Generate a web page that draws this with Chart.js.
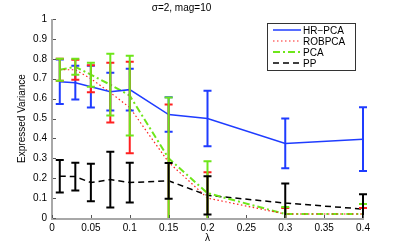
<!DOCTYPE html>
<html>
<head>
<meta charset="utf-8">
<script src="https://cdn.jsdelivr.net/npm/chart.js@4/dist/chart.umd.min.js"></script>
<style>
  html, body { margin: 0; padding: 0; background: #fff; }
  #wrap { width: 399px; height: 245px; }
</style>
</head>
<body>
<div id="wrap"><canvas id="chart" width="399" height="245"></canvas></div>
<script>
const lambdas = [0.01, 0.03, 0.05, 0.075, 0.1, 0.15, 0.2, 0.3, 0.4];

// mean expressed variance and error half-width per method
const hrMean = [0.685, 0.68, 0.66, 0.635, 0.645, 0.52, 0.50, 0.375, 0.396];
const hrErr = [0.112, 0.085, 0.105, 0.095, 0.105, 0.087, 0.14, 0.125, 0.16];
const robMean = [0.745, 0.745, 0.70, 0.63, 0.555, 0.28, 0.10, 0.02, 0.02];
const robErr = [0.055, 0.05, 0.068, 0.15, 0.23, 0.29, 0.13, 0.03, 0.03];
const pcaMean = [0.745, 0.76, 0.72, 0.67, 0.615, 0.30, 0.125, 0.02, 0.02];
const pcaErr = [0.055, 0.04, 0.06, 0.155, 0.20, 0.305, 0.16, 0.035, 0.05];
const ppMean = [0.21, 0.208, 0.178, 0.193, 0.178, 0.187, 0.114, 0.075, 0.045];
const ppErr = [0.082, 0.07, 0.094, 0.14, 0.10, 0.09, 0.096, 0.098, 0.074];

const xTicks = [0, 0.05, 0.1, 0.15, 0.2, 0.25, 0.3, 0.35, 0.4];
const yTicks = [0, 0.1, 0.2, 0.3, 0.4, 0.5, 0.6, 0.7, 0.8, 0.9, 1];

const BLUE = '#1f3cff', RED = '#ff2020', GREEN = '#6ee61a', BLACK = '#000';
const FONT = 'Liberation Sans, Arial, sans-serif';

function pts(means) {
  return lambdas.map((x, i) => ({ x: x, y: means[i] }));
}

const errSets = [
  { mean: hrMean, err: hrErr, color: BLUE },
  { mean: robMean, err: robErr, color: RED },
  { mean: pcaMean, err: pcaErr, color: GREEN },
  { mean: ppMean, err: ppErr, color: BLACK }
];

// error bars, drawn through the chart scales
const errorBars = {
  id: 'errorBars',
  afterDatasetsDraw(chart) {
    const { ctx, chartArea, scales } = chart;
    ctx.save();
    ctx.beginPath();
    ctx.rect(chartArea.left, chartArea.top - 2, chartArea.right - chartArea.left + 4, chartArea.bottom - chartArea.top + 2);
    ctx.clip();
    errSets.forEach(s => {
      ctx.strokeStyle = s.color;
      ctx.lineWidth = 2;
      lambdas.forEach((x, i) => {
        const px = scales.x.getPixelForValue(x);
        const top = scales.y.getPixelForValue(s.mean[i] + s.err[i]);
        const bot = scales.y.getPixelForValue(s.mean[i] - s.err[i]);
        ctx.beginPath();
        ctx.moveTo(px, top); ctx.lineTo(px, bot);
        ctx.moveTo(px - 4, top); ctx.lineTo(px + 4, top);
        ctx.moveTo(px - 4, bot); ctx.lineTo(px + 4, bot);
        ctx.stroke();
      });
    });
    ctx.restore();
  }
};

// matlab style axes: grey spines, inward ticks, boxed legend
const decor = {
  id: 'decor',
  afterDraw(chart) {
    const { ctx, chartArea, scales } = chart;
    const { left, right, top, bottom } = chartArea;
    ctx.save();
    ctx.strokeStyle = '#a8a8a8';
    ctx.lineWidth = 2;
    ctx.beginPath();
    ctx.moveTo(left, top); ctx.lineTo(left, bottom + 1); ctx.lineTo(right + 1, bottom + 1);
    ctx.stroke();
    ctx.strokeStyle = '#555';
    ctx.lineWidth = 1;
    ctx.beginPath();
    xTicks.forEach(v => {
      const px = Math.round(scales.x.getPixelForValue(v)) + 0.5;
      ctx.moveTo(px, bottom); ctx.lineTo(px, bottom - 3);
    });
    yTicks.forEach(v => {
      const py = Math.round(scales.y.getPixelForValue(v)) + 0.5;
      ctx.moveTo(left + 1, py); ctx.lineTo(left + 4, py);
    });
    ctx.stroke();

    // legend
    const lx = 267, ly = 23, lw = 88, lh = 47;
    ctx.fillStyle = '#fff';
    ctx.fillRect(lx, ly, lw, lh);
    ctx.strokeStyle = '#333';
    ctx.lineWidth = 1;
    ctx.strokeRect(lx + 0.5, ly + 0.5, lw, lh);
    ctx.font = '10px ' + FONT;
    ctx.textBaseline = 'middle';
    chart.data.datasets.forEach((ds, i) => {
      const y = ly + 7 + i * 11;
      ctx.strokeStyle = ds.borderColor;
      ctx.lineWidth = ds.borderWidth;
      ctx.setLineDash(ds.borderDash || []);
      ctx.beginPath();
      ctx.moveTo(lx + 6, y); ctx.lineTo(lx + 34, y);
      ctx.stroke();
      ctx.setLineDash([]);
      ctx.fillStyle = '#000';
      ctx.fillText(ds.label, lx + 36, y + 1);
    });
    ctx.restore();
  }
};

new Chart(document.getElementById('chart'), {
  type: 'line',
  data: {
    datasets: [
      { label: 'HR\u2212PCA', data: pts(hrMean), borderColor: BLUE, borderWidth: 1.5 },
      { label: 'ROBPCA', data: pts(robMean), borderColor: RED, borderWidth: 1.2, borderDash: [1.5, 2.5] },
      { label: 'PCA', data: pts(pcaMean), borderColor: GREEN, borderWidth: 2, borderDash: [7, 3, 2, 3] },
      { label: 'PP', data: pts(ppMean), borderColor: BLACK, borderWidth: 1.5, borderDash: [6, 4] }
    ]
  },
  options: {
    responsive: false,
    animation: false,
    elements: { point: { radius: 0 }, line: { tension: 0 } },
    layout: { padding: { top: 0, right: 36, bottom: 0, left: 0 } },
    plugins: {
      legend: { display: false },
      tooltip: { enabled: false },
      title: {
        display: true,
        text: '\u03c3=2, mag=10',
        color: '#000',
        font: { family: FONT, size: 10, weight: 'normal' },
        padding: { top: 2, bottom: 5 }
      }
    },
    scales: {
      x: {
        type: 'linear',
        min: 0, max: 0.4,
        afterBuildTicks: s => { s.ticks = xTicks.map(v => ({ value: v })); },
        afterFit: s => { s.height = 27; },
        ticks: { color: '#000', font: { family: FONT, size: 10 }, padding: 4, maxRotation: 0,
          callback: v => String(+v.toFixed(2)) },
        grid: { display: false, drawTicks: false },
        border: { display: false },
        title: { display: true, text: '\u03bb', color: '#000', font: { family: FONT, size: 10 }, padding: { top: 0, bottom: 1 } }
      },
      y: {
        min: 0, max: 1,
        afterBuildTicks: s => { s.ticks = yTicks.map(v => ({ value: v })); },
        afterFit: s => { s.width = 52; },
        ticks: { color: '#000', font: { family: FONT, size: 10 }, padding: 5,
          callback: v => String(+v.toFixed(1)) },
        grid: { display: false, drawTicks: false },
        border: { display: false },
        title: { display: true, text: 'Expressed Variance', color: '#000', font: { family: FONT, size: 10 }, padding: { top: 16, bottom: 0 } }
      }
    }
  },
  plugins: [errorBars, decor]
});
</script>
</body>
</html>
